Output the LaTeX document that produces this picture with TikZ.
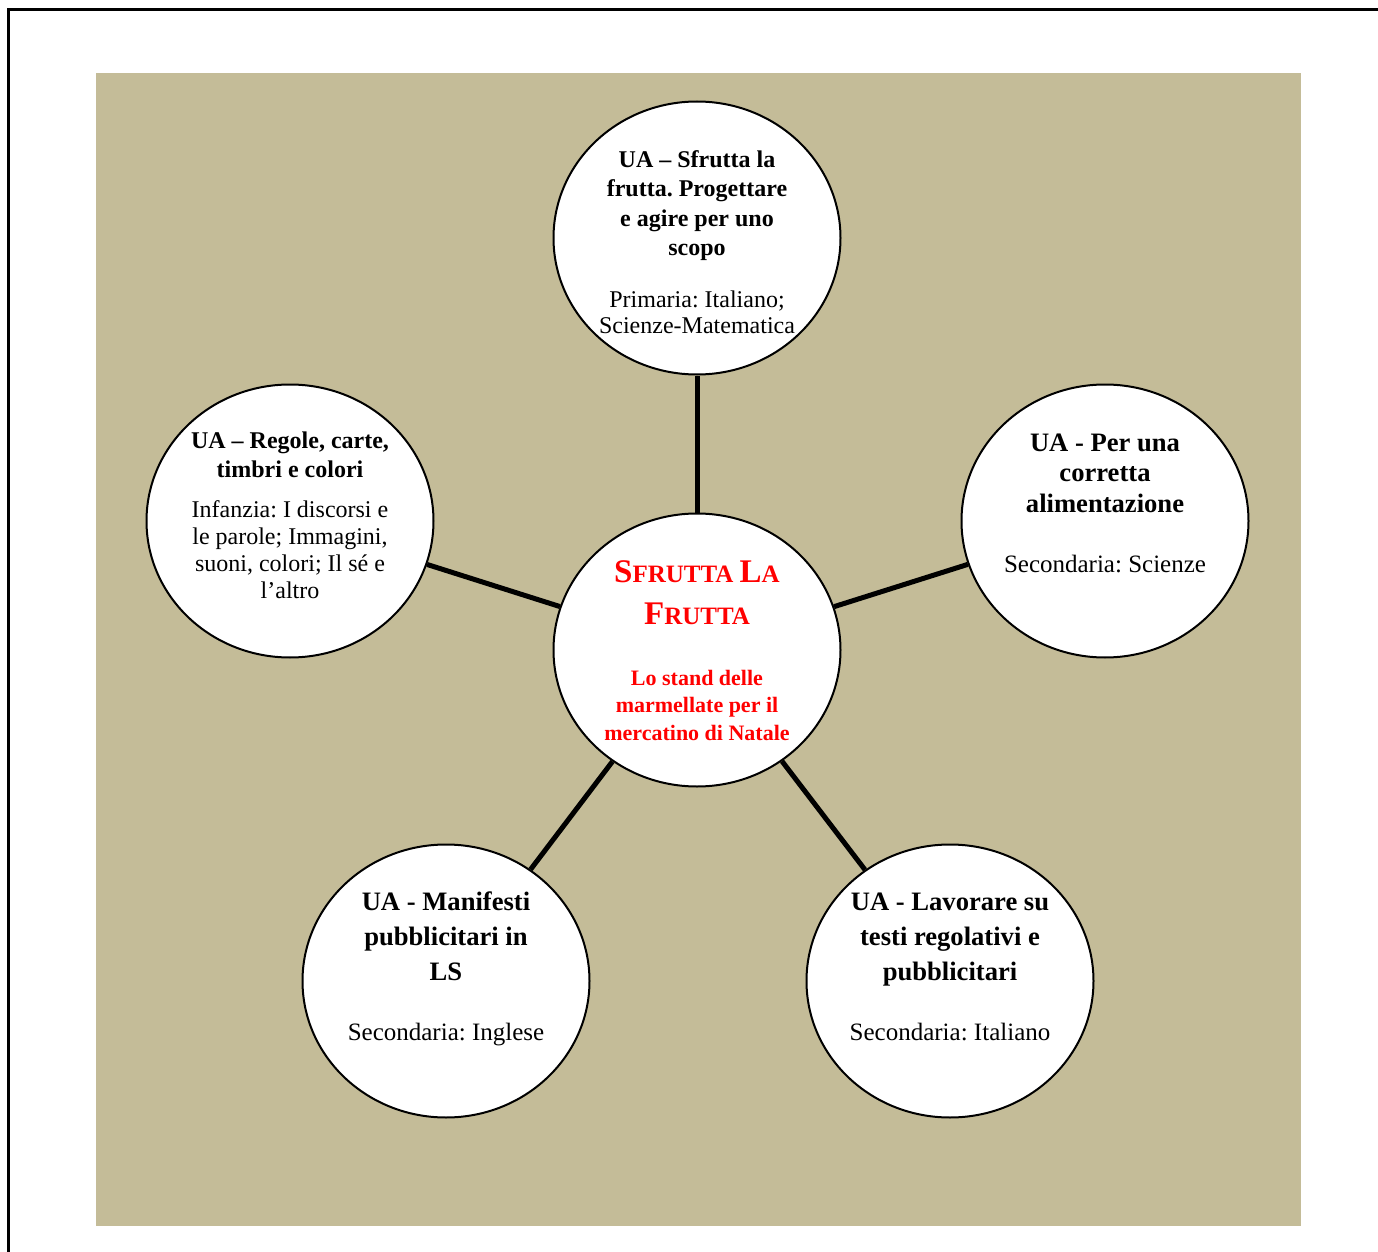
\documentclass[tikz,border=0pt]{standalone}
\usepackage{fontspec}
\setmainfont{Liberation Serif}
\usepackage{tikz}
\usepackage{xcolor}
\usetikzlibrary{shapes.geometric}
\definecolor{sand}{HTML}{C4BC98}
\definecolor{hubred}{HTML}{FF0000}
\newcommand{\hubcap}[1]{{\fontsize{16.5}{21}\selectfont #1}}
\frenchspacing
\tikzset{
    ua-bubble/.style = {draw=black, fill=white, line width=1pt, ellipse, minimum width=143.5pt, minimum height=136.5pt, inner sep=0pt},
    ua-title/.style = {anchor=north, align=center, inner sep=0pt, font=\bfseries\fontsize{12}{14.75}\selectfont},
    ua-title-big/.style = {ua-title, font=\bfseries\fontsize{13.3}{17.5}\selectfont},
    ua-body/.style = {anchor=north, align=center, inner sep=0pt, font=\fontsize{12}{13.5}\selectfont},
    link/.style = {draw=black, line width=2.5pt},
}

\begin{document}
\begin{tikzpicture}[x=0.5pt, y=-0.5pt]
\useasboundingbox (0,0) rectangle (1378,1252);
% frame and background
\draw[line width=1.5pt] (8,1252) -- (8,10) -- (1378,10);
\fill[sand] (96,73) rectangle (1301,1226);

% bubbles
\node[ua-bubble] (hub) at (697,650) {};
\node[ua-bubble] (ua-top) at (697,238) {};
\node[ua-bubble] (ua-left) at (290,521) {};
\node[ua-bubble] (ua-right) at (1105,521) {};
\node[ua-bubble] (ua-bl) at (446,981) {};
\node[ua-bubble] (ua-br) at (950,981) {};

\foreach \leaf in {ua-top,ua-left,ua-right,ua-bl,ua-br}
    \draw[link] (hub) -- (\leaf);

% centre
\node[ua-title, text=hubred, font=\bfseries\fontsize{12.5}{21}\selectfont] (hub-title) at (697,552.3)
    {\strut\hubcap{S}FRUTTA \hubcap{L}A\\\hubcap{F}RUTTA};
\node[ua-body, text=hubred, font=\bfseries\fontsize{11}{13.75}\selectfont] (hub-body) at (697,665.75)
    {\strut Lo stand delle\\marmellate per il\\mercatino di Natale};

% top
\node[ua-title] (top-title) at (697,146.4)
    {\strut UA – Sfrutta la\\frutta. Progettare\\e agire per uno\\scopo};
\node[ua-body, font=\fontsize{12}{13}\selectfont] (top-body) at (697,288.8)
    {\strut Primaria: Italiano;\\Scienze-Matematica};

% left
\node[ua-title, font=\bfseries\fontsize{12}{14.3}\selectfont] (left-title) at (290,428)
    {\strut UA – Regole, carte,\\timbri e colori};
\node[ua-body] (left-body) at (290,497.8)
    {\strut Infanzia: I discorsi e\\le parole; Immagini,\\suoni, colori; Il sé e\\l’altro};

% right
\node[ua-title, font=\bfseries\fontsize{13.3}{15.25}\selectfont] (right-title) at (1105,429.3)
    {\strut UA - Per una\\corretta\\alimentazione};
\node[ua-body, font=\fontsize{12.5}{15}\selectfont] (right-body) at (1105,550.7)
    {\strut Secondaria: Scienze};

% bottom left
\node[ua-title-big] (bl-title) at (446,885.5)
    {\strut UA - Manifesti\\pubblicitari in\\LS};
\node[ua-body, font=\fontsize{12.5}{15}\selectfont] (bl-body) at (446,1019)
    {\strut Secondaria: Inglese};

% bottom right
\node[ua-title-big] (br-title) at (950,885.5)
    {\strut UA - Lavorare su\\testi regolativi e\\pubblicitari};
\node[ua-body, font=\fontsize{12.5}{15}\selectfont] (br-body) at (950,1019)
    {\strut Secondaria: Italiano};
\end{tikzpicture}
\end{document}
